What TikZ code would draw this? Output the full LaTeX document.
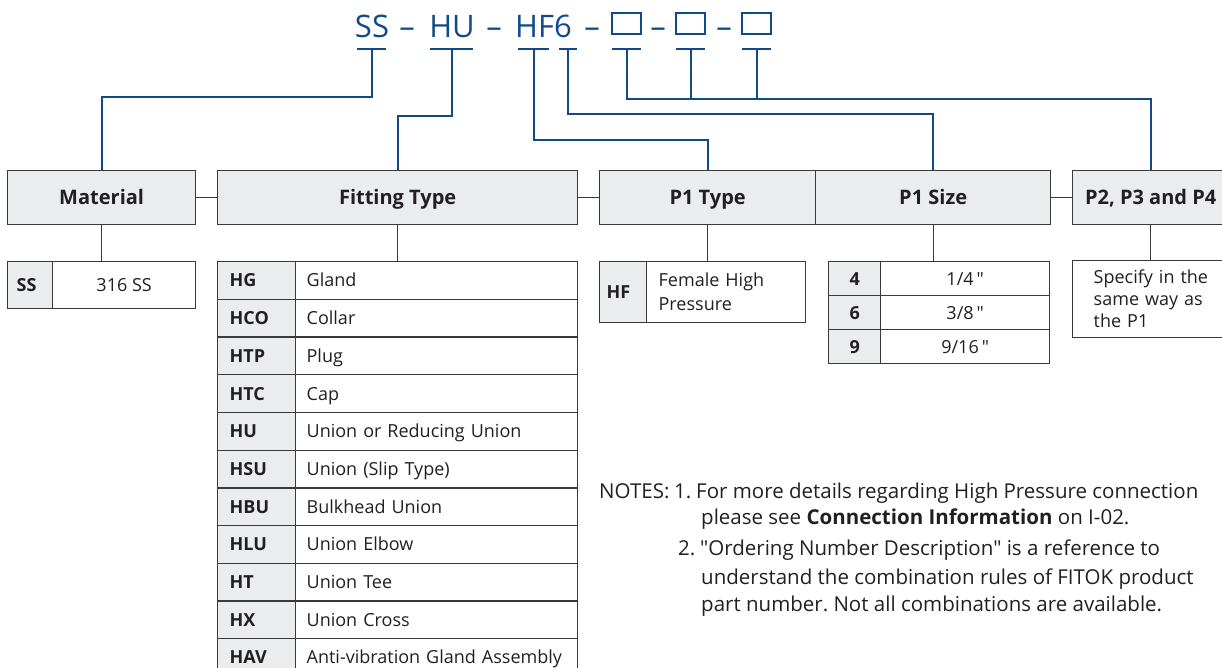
\documentclass[tikz,border=0pt]{standalone}
\usepackage{fontspec}
\setmainfont{Open Sans}[Ligatures=TeXOff]
\frenchspacing
\definecolor{fblue}{HTML}{12498A}
\definecolor{hdrfill}{HTML}{EBECEE}
\definecolor{edgec}{HTML}{3A3A3A}
\definecolor{txt}{HTML}{231F20}
\tikzset{
  bl/.style={draw=fblue, line width=2pt},
  gl/.style={draw=edgec, line width=1.3pt},
  hdr/.style={draw=edgec, fill=hdrfill, line width=1.3pt, text=txt,
    font=\fontsize{20}{24}\selectfont\bfseries, text height=14.3pt, text depth=0pt,
    inner sep=0pt, anchor=north west, minimum height=54},
  keyc/.style={draw=edgec, fill=hdrfill, line width=1.3pt, text=txt,
    font=\fontsize{18}{22}\selectfont\bfseries, text height=12.9pt, text depth=0pt,
    anchor=north west, inner ysep=0pt},
  valc/.style={draw=edgec, fill=white, line width=1.3pt, text=txt,
    font=\fontsize{18}{22}\selectfont, anchor=north west, inner ysep=0pt},
  vone/.style={valc, text height=12.9pt, text depth=0pt},
  ttl/.style={text=fblue, font=\fontsize{31}{36}\selectfont, inner sep=0pt, anchor=base},
  tbox/.style={draw=fblue, line width=2pt, minimum width=29, minimum height=21, inner sep=0pt},
  notec/.style={text=txt, font=\fontsize{20.5}{24}\selectfont, inner sep=0pt, anchor=base west},
}
\begin{document}
\begin{tikzpicture}[x=1pt,y=-1pt]
\useasboundingbox (0,0) rectangle (1222,667);
\clip (0,0) rectangle (1222,667);
% title
\node[ttl] (tSS) at (372,37) {SS};
\node[ttl] (d1) at (407,37) {–};
\node[ttl] (tHU) at (452,37) {HU};
\node[ttl] (d2) at (494,37) {–};
\node[ttl] (tHF) at (543.5,37) {HF6};
\node[ttl] (d3) at (592,37) {–};
\node[tbox] (b1) at (626.5,23.5) {};
\node[ttl] (d4) at (658,37) {–};
\node[tbox] (b2) at (690.5,23.5) {};
\node[ttl] (d5) at (724,37) {–};
\node[tbox] (b3) at (756.5,23.5) {};
% underlines
\coordinate (uSS) at (371.5,49);
\coordinate (uHU) at (451.5,49);
\coordinate (uHF) at (533.5,49);
\coordinate (u6) at (568,49);
\coordinate (ub1) at (626.5,49);
\coordinate (ub2) at (690.5,49);
\coordinate (ub3) at (756.5,49);
\draw[bl] ([xshift=-14.5]uSS) -- ([xshift=14.5]uSS);
\draw[bl] ([xshift=-21.5]uHU) -- ([xshift=21.5]uHU);
\draw[bl] ([xshift=-15.5]uHF) -- ([xshift=15.5]uHF);
\draw[bl] ([xshift=-9]u6) -- ([xshift=9]u6);
\draw[bl] ([xshift=-14.5]ub1) -- ([xshift=14.5]ub1);
\draw[bl] ([xshift=-14.5]ub2) -- ([xshift=14.5]ub2);
\draw[bl] ([xshift=-14.5]ub3) -- ([xshift=14.5]ub3);
% headers
\node[hdr, minimum width=188] (mat) at (7,170) {Material};
\node[hdr, minimum width=360] (fit) at (217,170) {Fitting Type};
\node[hdr, minimum width=216] (p1t) at (599,170) {P1 Type};
\node[hdr, minimum width=235] (p1s) at (815,170) {P1 Size};
\node[hdr, minimum width=156] (p2h) at (1072,170) {P2, P3 and P4};
\draw[gl] (mat.east) -- (fit.west);
\draw[gl] (fit.east) -- (p1t.west);
\draw[gl] (p1s.east) -- (p2h.west);
% blue connectors
\draw[bl] (uSS) -- ++(0,48) -| (mat.north);
\draw[bl] (uHU) -- ++(0,67) -| (fit.north);
\draw[bl] (uHF) -- ++(0,91) -| (p1t.north);
\draw[bl] (u6) -- ++(0,65) -| (p1s.north);
\draw[bl] (ub1) -- ++(0,50) -| (p2h.north);
\draw[bl] (ub2) -- ++(0,50);
\draw[bl] (ub3) -- ++(0,50);
% material table
\node[keyc, minimum height=47, inner xsep=9, text width=27] (ssk) at (7,261) {SS};
\node[vone, minimum height=47, minimum width=143] (ssv) at (52,261) {316 SS};
\draw[gl] (mat.south) -- (mat.south |- ssv.north);
% fitting type table
\foreach \k/\v [count=\i] in {HG/Gland, HCO/Collar, HTP/Plug, HTC/Cap, HU/Union or Reducing Union, HSU/Union (Slip Type), HBU/Bulkhead Union, HLU/Union Elbow, HT/Union Tee, HX/Union Cross, HAV/Anti-vibration Gland Assembly}{
  \pgfmathsetmacro\yy{261+37.7*(\i-1)}
  \node[keyc, minimum height=37.7, inner xsep=12, text width=54] (ftk\i) at (217,\yy) {\k};
  \node[vone, minimum height=37.7, inner xsep=11, text width=260, align=left] (ftv\i) at (295,\yy) {\v};
}
\draw[gl] (fit.south) -- (fit.south |- ftv1.north);
% P1 type table
\node[keyc, minimum height=61, inner xsep=7, text width=33] (hfk) at (599,261) {HF};
\node[valc, minimum height=61, inner xsep=12, text width=135, align=left, font=\fontsize{18}{24}\selectfont] (hfv) at (646,261) {Female High\\Pressure};
\draw[gl] (p1t.south) -- (p1t.south |- hfv.north);
% P1 size table
\node[keyc, minimum height=34, minimum width=52] (s4k) at (828,261) {4};
\node[vone, minimum height=34, minimum width=169] (s4v) at (880,261) {1/4\,"};
\node[keyc, minimum height=34, minimum width=52] (s6k) at (828,295) {6};
\node[vone, minimum height=34, minimum width=169] (s6v) at (880,295) {3/8\,"};
\node[keyc, minimum height=34, minimum width=52] (s9k) at (828,329) {9};
\node[vone, minimum height=34, minimum width=169] (s9v) at (880,329) {9/16\,"};
\draw[gl] (p1s.south) -- (p1s.south |- s4v.north);
% P2 table
\node[valc, minimum height=77, inner xsep=21, text width=130, align=left, font=\fontsize{18}{22}\selectfont] (p2v) at (1072,260) {Specify in the\\same way as\\the P1};
\draw[gl] (p2h.south) -- (p2h.south |- p2v.north);
% notes
\node[notec] (notes) at (599,498) {NOTES:};
\node[notec] (n1) at (674,498) {1.};
\node[notec] (n1a) at (696,498) {For more details regarding High Pressure connection};
\node[notec] (n1b) at (701,524) {please see \textbf{Connection Information} on I-02.};
\node[notec] (n2) at (678,555) {2.};
\node[notec] (n2a) at (700,555) {"Ordering Number Description" is a reference to};
\node[notec] (n2b) at (701,584) {understand the combination rules of FITOK product};
\node[notec] (n2c) at (701,611) {part number. Not all combinations are available.};
\end{tikzpicture}
\end{document}
